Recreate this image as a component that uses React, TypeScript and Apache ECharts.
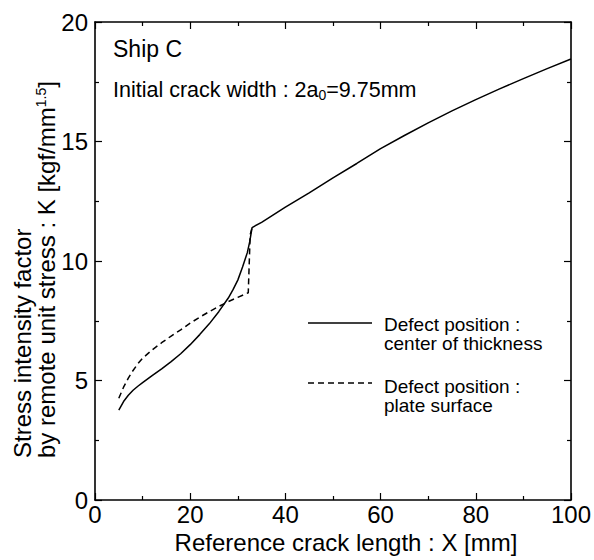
import React, { useEffect, useRef } from "react";
import * as echarts from "echarts";

const xSolid = [5, 6, 7, 8, 9, 10, 12, 14, 16, 18, 20, 22, 24, 26, 28, 29, 30, 31, 32, 32.5, 33, 35, 40, 45, 50, 55, 60, 65, 70, 75, 80, 85, 90, 95, 100];
const ySolid = [3.76, 4.12, 4.38, 4.59, 4.76, 4.91, 5.2, 5.49, 5.79, 6.12, 6.5, 6.92, 7.37, 7.88, 8.45, 8.8, 9.2, 9.75, 10.35, 10.8, 11.4, 11.62, 12.25, 12.85, 13.48, 14.08, 14.7, 15.25, 15.78, 16.28, 16.75, 17.2, 17.63, 18.05, 18.45];
const xDashed = [5, 6, 7, 8, 9, 10, 12, 14, 16, 18, 20, 22, 24, 26, 28, 30, 32.2, 32.6, 33];
const yDashed = [4.26, 4.72, 5.1, 5.42, 5.7, 5.93, 6.28, 6.58, 6.86, 7.12, 7.4, 7.65, 7.88, 8.1, 8.3, 8.48, 8.67, 11.1, 11.4];

const seriesNames = ["Defect position :\ncenter of thickness", "Defect position :\nplate surface"];
const xTicks = [0, 20, 40, 60, 80, 100];
const yTicks = [0, 5, 10, 15, 20];

const FONT = "'Liberation Sans', Arial, Helvetica, sans-serif";

export default function App() {
  const ref = useRef<HTMLDivElement>(null);
  useEffect(() => {
    document.body.style.margin = "0";
    const chart = echarts.init(ref.current!, null, { renderer: "svg" });
    const axisCommon = {
      type: "value" as const,
      axisLine: { show: true, onZero: false, lineStyle: { color: "#000", width: 1.6 } },
      axisTick: { show: true, inside: true, length: 7, lineStyle: { color: "#000", width: 1.2 } },
      minorTick: { show: true, splitNumber: 2, length: 4, lineStyle: { color: "#000", width: 1.2 } },
      splitLine: { show: false },
    };
    const xMin = xTicks[0], xMax = xTicks[xTicks.length - 1], xInt = xTicks[1] - xTicks[0];
    const yMin = yTicks[0], yMax = yTicks[yTicks.length - 1], yInt = yTicks[1] - yTicks[0];
    chart.setOption({
      animation: false,
      textStyle: { fontFamily: FONT },
      grid: { left: 95, right: 21, top: 22, bottom: 60 },
      xAxis: [
        {
          ...axisCommon,
          position: "bottom",
          min: xMin, max: xMax, interval: xInt,
          axisLabel: { color: "#000", fontSize: 24, margin: 2, fontFamily: FONT },
          name: "Reference crack length : X [mm]",
          nameLocation: "middle",
          nameGap: 22,
          nameTextStyle: { color: "#000", fontSize: 24, fontFamily: FONT, padding: [0, 0, 0, 26] },
        },
        {
          ...axisCommon,
          position: "top",
          min: xMin, max: xMax, interval: xInt,
          axisLabel: { show: false },
        },
      ],
      yAxis: [
        {
          ...axisCommon,
          position: "left",
          min: yMin, max: yMax, interval: yInt,
          axisLabel: { color: "#000", fontSize: 24, margin: 7, fontFamily: FONT },
        },
        {
          ...axisCommon,
          position: "right",
          min: yMin, max: yMax, interval: yInt,
          axisLabel: { show: false },
        },
      ],
      series: [
        {
          name: seriesNames[0],
          type: "line",
          xAxisIndex: 0,
          yAxisIndex: 0,
          data: xSolid.map((x, i) => [x, ySolid[i]]),
          showSymbol: false,
          symbol: "none",
          lineStyle: { color: "#000", width: 1.5, type: "solid" },
        },
        {
          name: seriesNames[1],
          type: "line",
          xAxisIndex: 0,
          yAxisIndex: 0,
          data: xDashed.map((x, i) => [x, yDashed[i]]),
          showSymbol: false,
          symbol: "none",
          lineStyle: { color: "#000", width: 1.5, type: [6, 4] },
        },
      ],
      graphic: [
        {
          type: "text",
          x: 113,
          y: 49,
          style: { text: "Ship C", fontSize: 23, fill: "#000", fontFamily: FONT, textVerticalAlign: "middle" },
        },
        {
          type: "text",
          x: 113,
          y: 90,
          style: {
            text: "{a|Initial crack width : 2a}{s|0}{a|=9.75mm}",
            textVerticalAlign: "middle",
            fill: "#000",
            rich: {
              a: { fontSize: 21.5, lineHeight: 24, fontFamily: FONT, fill: "#000" },
              s: { fontSize: 14, lineHeight: 10, verticalAlign: "bottom", fontFamily: FONT, fill: "#000" },
            },
          },
        },
        {
          type: "text",
          x: 34,
          y: 458,
          rotation: Math.PI / 2,
          style: {
            text: "{a|Stress intensity factor}\n{a|by remote unit stress : K [kgf/mm}{s|1.5}{a|]}",
            textAlign: "left",
            textVerticalAlign: "middle",
            fill: "#000",
            rich: {
              a: { fontSize: 24, lineHeight: 24, fontFamily: FONT, fill: "#000" },
              s: { fontSize: 14, lineHeight: 4, verticalAlign: "top", fontFamily: FONT, fill: "#000" },
            },
          },
        },
        { type: "line", shape: { x1: 308, y1: 323, x2: 372, y2: 323 }, style: { stroke: "#000", lineWidth: 1.5 } },
        { type: "line", shape: { x1: 308, y1: 383, x2: 372, y2: 383 }, style: { stroke: "#000", lineWidth: 1.5, lineDash: [6, 4] } },
        {
          type: "text",
          x: 384,
          y: 333.5,
          style: { text: seriesNames[0], fontSize: 19, lineHeight: 19, fill: "#000", fontFamily: FONT, textVerticalAlign: "middle" },
        },
        {
          type: "text",
          x: 384,
          y: 395.5,
          style: { text: seriesNames[1], fontSize: 19, lineHeight: 19, fill: "#000", fontFamily: FONT, textVerticalAlign: "middle" },
        },
      ],
    });
    return () => chart.dispose();
  }, []);
  return <div ref={ref} style={{ width: 594, height: 560 }} />;
}
